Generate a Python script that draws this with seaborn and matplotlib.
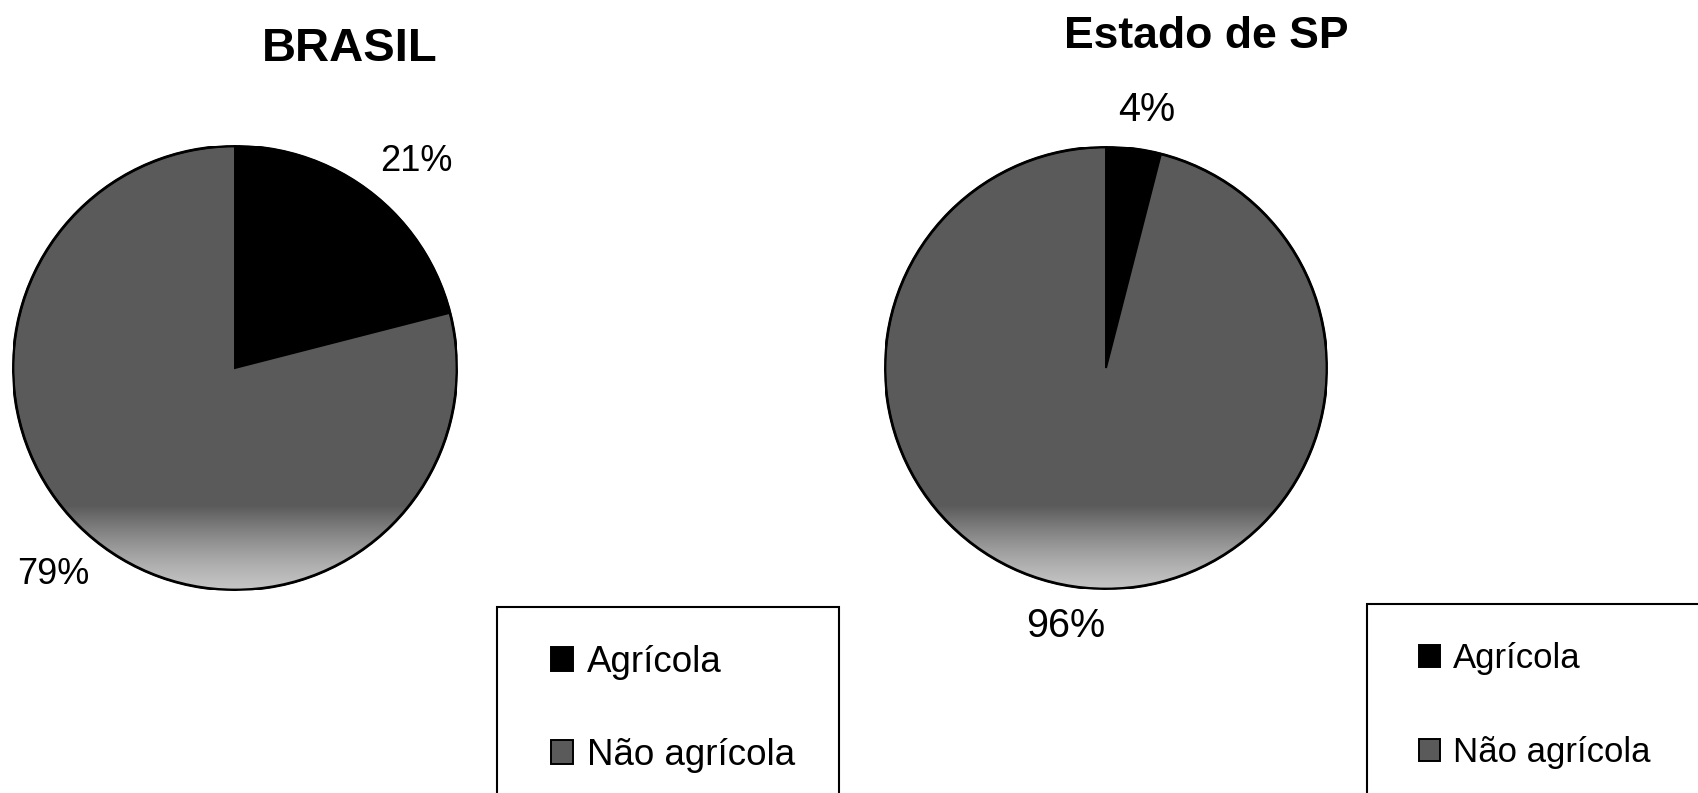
import matplotlib

matplotlib.use("Agg")
import matplotlib.pyplot as plt
import numpy as np
import seaborn as sns
from matplotlib.patches import Rectangle, Circle

CATEGORIES = ["Agrícola", "Não agrícola"]
BRASIL_SHARE = [21, 79]
SP_SHARE = [4, 96]
TITLES = ["BRASIL", "Estado de SP"]
COLORS = ["#000000", "#5a5a5a"]

W, H = 1699, 793

sns.set_theme(style="white")
plt.rcParams["font.family"] = ["Liberation Sans", "DejaVu Sans"]
plt.rcParams["text.color"] = "black"

fig = plt.figure(figsize=(W / 100, H / 100), dpi=100)
fig.patch.set_facecolor("white")


def px_axes(cx, cy, r):
    return fig.add_axes([(cx - r) / W, (H - cy - r) / H, 2 * r / W, 2 * r / H])


def draw_pie(ax, values, pctdist, fontsize, label_turn):
    wedges, _, autotexts = ax.pie(
        values,
        colors=COLORS,
        startangle=90,
        counterclock=False,
        autopct="%1.0f%%",
        pctdistance=pctdist,
        radius=1,
        wedgeprops=dict(edgecolor="black", linewidth=1.4),
        textprops=dict(color="black", fontsize=fontsize),
    )
    # the labels sit a little clockwise of the wedge middles
    turn = np.deg2rad(label_turn)
    for t in autotexts:
        x, y = t.get_position()
        t.set_position((x * np.cos(turn) - y * np.sin(turn),
                        x * np.sin(turn) + y * np.cos(turn)))
    # light gradient toward the bottom of the grey wedge
    grad = np.linspace(0, 1, 200).reshape(-1, 1)
    cmap = matplotlib.colors.LinearSegmentedColormap.from_list(
        "g", ["#c4c4c4", "#5a5a5a"]
    )
    im = ax.imshow(
        grad ** 1.3,
        extent=[-1, 1, -1.0, -0.62],
        origin="lower",
        cmap=cmap,
        aspect="auto",
        zorder=wedges[1].get_zorder() + 0.1,
    )
    im.set_clip_path(wedges[1])
    ax.add_patch(Circle((0, 0), 1, fill=False, edgecolor="black",
                        linewidth=2, zorder=5))
    ax.set_xlim(-1, 1)
    ax.set_ylim(-1, 1)
    ax.set_aspect("equal")
    ax.axis("off")
    return wedges


ax1 = px_axes(235, 368, 222)
wedges1 = draw_pie(ax1, BRASIL_SHARE, 1.24, 26, -3.5)
ax2 = px_axes(1106, 368, 221)
wedges2 = draw_pie(ax2, SP_SHARE, 1.18, 28.5, -1.7)

fig.text(350 / W, 1 - 49 / H, TITLES[0], ha="center", va="center",
         fontsize=34, fontweight="bold")
fig.text(1206 / W, 1 - 36 / H, TITLES[1], ha="center", va="center",
         fontsize=32, fontweight="bold")

# legend boxes
for x0, y0, x1 in [(497, 607, 839), (1367, 604, 1710)]:
    fig.patches.append(
        Rectangle((x0 / W, (H - 800) / H), (x1 - x0) / W, (800 - y0) / H,
                  transform=fig.transFigure, fill=False, edgecolor="black",
                  linewidth=1.5)
    )

for wedges, x, top, size, spacing in [
    (wedges1, 551, 645, 26.5, 1.58),
    (wedges2, 1419, 642, 25, 1.75),
]:
    fig.legend(
        wedges,
        CATEGORIES,
        loc="upper left",
        bbox_to_anchor=(x / W, 1 - top / H),
        frameon=False,
        handlelength=0.6,
        handleheight=0.6,
        handletextpad=0.38,
        labelspacing=spacing,
        borderpad=0,
        borderaxespad=0,
        prop=dict(size=size),
    )

fig.savefig("out.png", dpi=100, facecolor="white")
